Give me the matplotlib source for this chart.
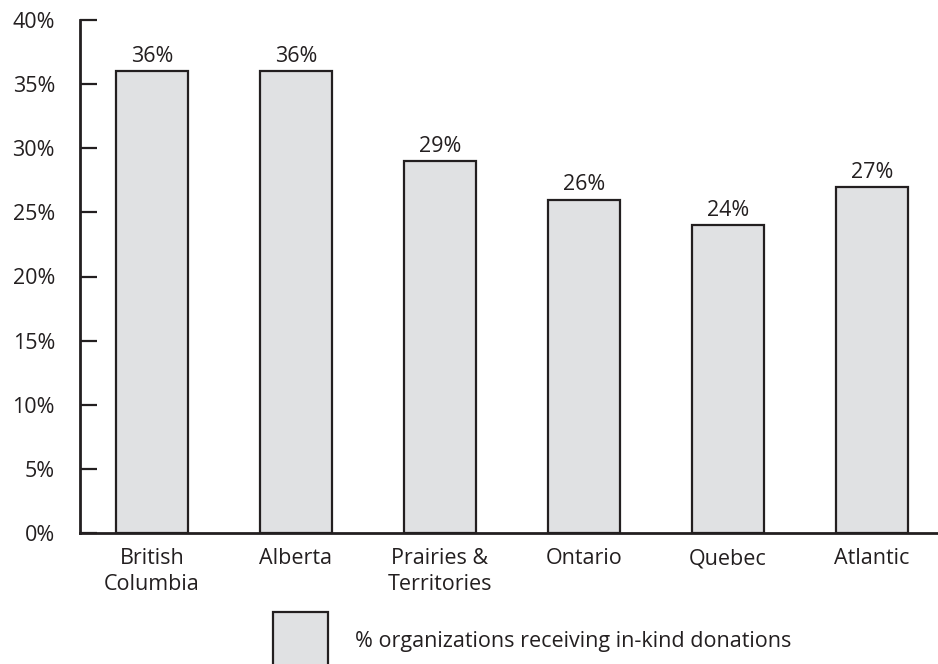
import numpy as np
import matplotlib
matplotlib.use("Agg")
import matplotlib.pyplot as plt
from matplotlib.patches import Rectangle

regions = ["British\nColumbia", "Alberta", "Prairies &\nTerritories",
           "Ontario", "Quebec", "Atlantic"]
pct_inkind = [36, 36, 29, 26, 24, 27]
y_ticks = [0, 5, 10, 15, 20, 25, 30, 35, 40]
legend_label = "% organizations receiving in-kind donations"

plt.rcParams['font.family'] = ['Open Sans', 'DejaVu Sans']
dark = "#231f20"
fill = "#e0e1e3"
fs = 15.5

fig = plt.figure(figsize=(9.38, 6.64), dpi=100)
ax = fig.add_axes([80 / 938, 1 - 533 / 664, 1 - 80 / 938, 513 / 664])

x = np.arange(len(regions))
bars = ax.bar(x, pct_inkind, width=0.5, color=fill, edgecolor=dark,
              linewidth=1.6, zorder=2)
for xi, v in zip(x, pct_inkind):
    ax.annotate(f"{v}%", (xi, v), xytext=(0, 3), textcoords="offset points",
                ha="center", va="bottom", fontsize=fs, color=dark)

ax.set_xlim(-0.5, 5.46)
ax.set_ylim(0, 40)
ax.set_yticks(y_ticks)
ax.set_yticklabels([f"{t}%" for t in y_ticks], fontsize=fs, color=dark)
ax.tick_params(axis="y", direction="in", length=12, width=1.6, color=dark,
               pad=18)
ax.set_xticks(x)
ax.set_xticklabels(regions, fontsize=fs, color=dark, linespacing=1.3)
ax.tick_params(axis="x", length=0, pad=11)
for s in ["top", "right"]:
    ax.spines[s].set_visible(False)
for s in ["left", "bottom"]:
    ax.spines[s].set_linewidth(2)
    ax.spines[s].set_color(dark)

# legend drawn by hand, box runs off the bottom edge like the reference
fig.patches.append(Rectangle((273 / 938, -0.02), 55 / 938, 0.098,
                             transform=fig.transFigure, facecolor=fill,
                             edgecolor=dark, linewidth=1.6))
fig.text(355 / 938, 1 - 642 / 664, legend_label, fontsize=fs, color=dark,
         va="center", ha="left")

fig.savefig("out.png", dpi=100)
